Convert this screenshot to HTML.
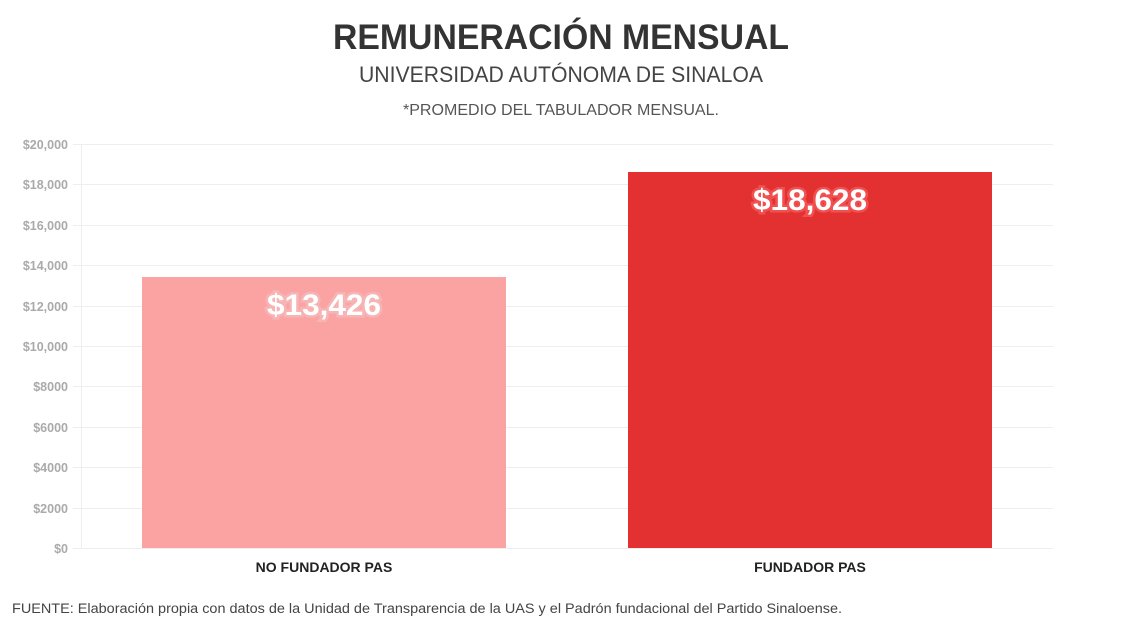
<!DOCTYPE html>
<html><head><meta charset="utf-8"><style>
body{margin:0;width:1122px;height:630px;background:#fff;font-family:"Liberation Sans",sans-serif;overflow:hidden}
</style></head><body>
<svg width="1122" height="630" xmlns="http://www.w3.org/2000/svg" font-family="Liberation Sans, sans-serif">
<text x="561" y="49" text-anchor="middle" font-size="35" font-weight="bold" fill="#333" textLength="456" lengthAdjust="spacingAndGlyphs">REMUNERACIÓN MENSUAL</text>
<text x="561" y="82" text-anchor="middle" font-size="22" fill="#444" textLength="404" lengthAdjust="spacingAndGlyphs">UNIVERSIDAD AUTÓNOMA DE SINALOA</text>
<text x="561" y="115" text-anchor="middle" font-size="16" fill="#555" textLength="316" lengthAdjust="spacingAndGlyphs">*PROMEDIO DEL TABULADOR MENSUAL.</text>
<g stroke="#eee" stroke-width="1">
<line x1="73" x2="1053" y1="144.5" y2="144.5"/><line x1="73" x2="1053" y1="184.5" y2="184.5"/><line x1="73" x2="1053" y1="225.5" y2="225.5"/><line x1="73" x2="1053" y1="265.5" y2="265.5"/><line x1="73" x2="1053" y1="306.5" y2="306.5"/><line x1="73" x2="1053" y1="346.5" y2="346.5"/><line x1="73" x2="1053" y1="386.5" y2="386.5"/><line x1="73" x2="1053" y1="427.5" y2="427.5"/><line x1="73" x2="1053" y1="467.5" y2="467.5"/><line x1="73" x2="1053" y1="508.5" y2="508.5"/><line x1="73" x2="1053" y1="548.5" y2="548.5"/>
<line x1="81.5" x2="81.5" y1="144" y2="548"/>
</g>
<g font-size="12.5" font-weight="bold" fill="#aaa" text-anchor="end">
<text x="68" y="149">$20,000</text><text x="68" y="189">$18,000</text><text x="68" y="230">$16,000</text><text x="68" y="270">$14,000</text><text x="68" y="311">$12,000</text><text x="68" y="351">$10,000</text><text x="68" y="391">$8000</text><text x="68" y="432">$6000</text><text x="68" y="472">$4000</text><text x="68" y="513">$2000</text><text x="68" y="553">$0</text>
</g>
<rect x="142" y="277" width="364" height="271" fill="#fba3a3"/>
<rect x="628" y="172" width="364" height="376" fill="#e33031"/>
<g font-size="30" font-weight="bold" fill="#fff" text-anchor="middle">
<text x="324" y="315" stroke="#f6b4b4" stroke-width="5" paint-order="stroke" textLength="114" lengthAdjust="spacingAndGlyphs">$13,426</text>
<text x="810" y="210" stroke="#f05050" stroke-width="5" paint-order="stroke" textLength="114" lengthAdjust="spacingAndGlyphs">$18,628</text>
</g>
<g font-size="14" font-weight="bold" fill="#222" text-anchor="middle">
<text x="324" y="572">NO FUNDADOR PAS</text><text x="810" y="572">FUNDADOR PAS</text>
</g>
<text x="12" y="613" font-size="13.5" fill="#444" textLength="830" lengthAdjust="spacingAndGlyphs">FUENTE: Elaboración propia con datos de la Unidad de Transparencia de la UAS y el Padrón fundacional del Partido Sinaloense.</text>
</svg>
</body></html>
